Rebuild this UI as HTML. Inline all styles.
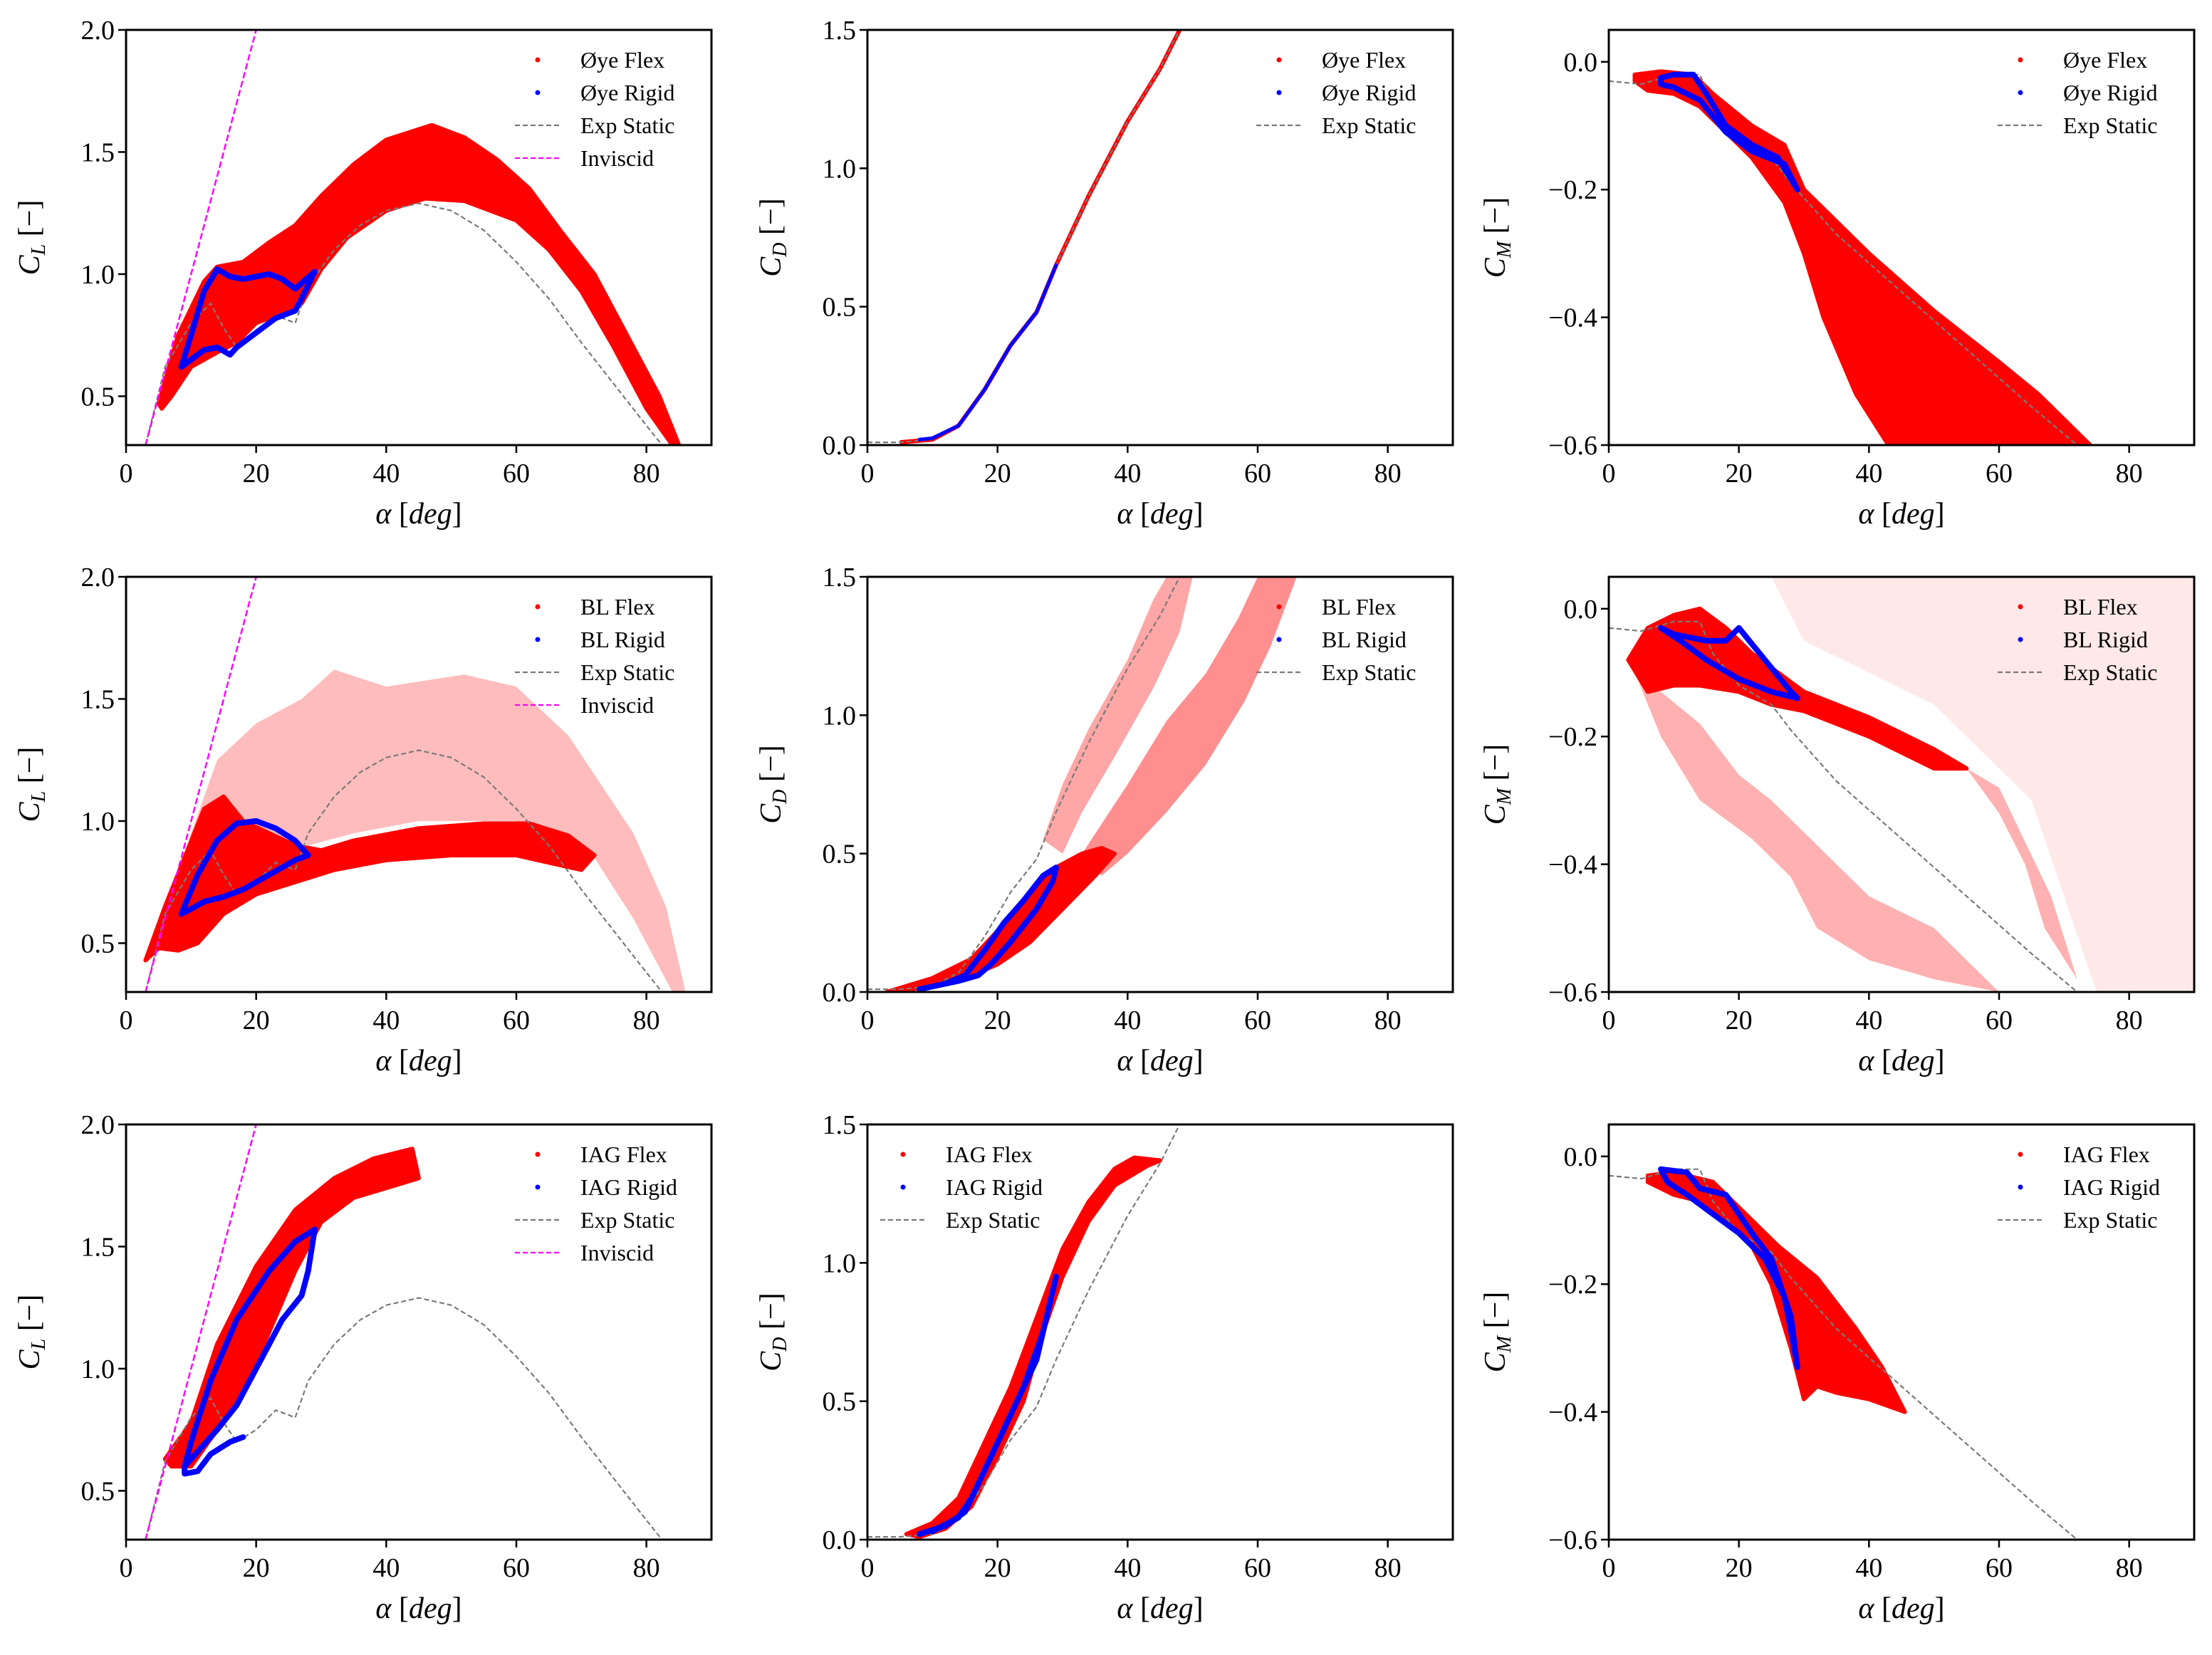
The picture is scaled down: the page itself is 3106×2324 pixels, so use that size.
<!DOCTYPE html>
<html><head><meta charset="utf-8"><style>
html,body{margin:0;padding:0;background:#fff;}
svg{display:block;}
text{font-family:"Liberation Serif","DejaVu Serif",serif;fill:#000;}
</style></head><body>
<svg id="fig" xmlns="http://www.w3.org/2000/svg" width="3106" height="2324" viewBox="0 0 3106 2324"></svg>
<script>
// ---------- shared data ----------
const xTicks = [0,20,40,60,80];
const clTicks = [0.5,1.0,1.5,2.0];
const cdTicks = [0.0,0.5,1.0,1.5];
const cmTicks = [0.0,-0.2,-0.4,-0.6];

const expCLa = [3,6,10,13,15,17,20,23,26,28,32,36,40,45,50,55,60,65,70,75,80,83];
const expCLv = [0.3,0.62,0.8,0.88,0.78,0.7,0.75,0.83,0.8,0.95,1.1,1.2,1.26,1.29,1.26,1.18,1.05,0.9,0.72,0.55,0.38,0.28];
const expCDa = [0,5,10,14,18,22,26,29,34,40,45,48];
const expCDv = [0.01,0.01,0.02,0.07,0.2,0.36,0.48,0.65,0.9,1.17,1.36,1.5];
const expCMa = [0,5,10,14,16,20,25,28,35,45,55,65,72];
const expCMv = [-0.03,-0.035,-0.02,-0.02,-0.07,-0.12,-0.15,-0.19,-0.27,-0.36,-0.45,-0.54,-0.6];
const invA = [3,20];
const invV = [0.3,2.0];

// Øye CL
const oyeCLdenseA = [5,8,12,14,18,22,26,30,35,40,47,52,57,62,67,72,77,82,85,84,80,75,70,65,60,52,46,40,34,30,27,24,20,17,14,10,7,5.5];
const oyeCLdenseV = [0.47,0.75,0.97,1.03,1.05,1.13,1.2,1.32,1.45,1.55,1.61,1.56,1.47,1.35,1.17,1.0,0.75,0.5,0.3,0.3,0.45,0.7,0.93,1.1,1.22,1.3,1.31,1.26,1.15,1.02,0.88,0.84,0.8,0.72,0.68,0.62,0.5,0.45];
const oyeCLblueA = [8.5,10,12,14,16,18,22,24,26,29,27,26,23,20,17,16,14,12,10,8.5];
const oyeCLblueV = [0.62,0.75,0.93,1.02,0.99,0.98,1.0,0.98,0.94,1.01,0.9,0.85,0.82,0.76,0.7,0.67,0.7,0.69,0.65,0.62];
// Øye CD
const oyeCDredA = [5,10,14,18,22,26,29,34,40,45,48];
const oyeCDredV = [0.01,0.02,0.07,0.2,0.36,0.48,0.65,0.9,1.17,1.36,1.5];
const oyeCDblueA = [8,10,14,18,22,26,29];
const oyeCDblueV = [0.02,0.025,0.07,0.2,0.36,0.48,0.65];
// Øye CM
const oyeCMdenseA = [4,8,13,16,22,27,30,40,50,60,66,74,60,50,43,38,33,30,27,22,18,14,10,6,4];
const oyeCMdenseV = [-0.02,-0.015,-0.02,-0.05,-0.1,-0.13,-0.2,-0.3,-0.39,-0.47,-0.52,-0.6,-0.6,-0.6,-0.6,-0.52,-0.4,-0.3,-0.22,-0.15,-0.11,-0.07,-0.05,-0.045,-0.03];
const oyeCMblueA = [8,10,13,15,18,22,26,29,27,22,18,14,10,8,8];
const oyeCMblueV = [-0.025,-0.02,-0.02,-0.05,-0.1,-0.13,-0.15,-0.2,-0.16,-0.14,-0.11,-0.06,-0.04,-0.035,-0.025];

// BL CL
const blCLdenseA = [3,6,9,12,15,18,22,26,30,35,45,55,62,68,72,70,60,50,40,32,26,20,15,11,8,5,3];
const blCLdenseV = [0.43,0.65,0.85,1.05,1.1,1.0,0.95,0.9,0.88,0.92,0.97,0.99,0.99,0.94,0.86,0.8,0.86,0.86,0.84,0.8,0.75,0.7,0.62,0.5,0.47,0.48,0.43];
const blCLsparseA = [5,10,14,20,27,32,40,52,60,68,73,78,83,86,84,78,72,60,45,35,28,22,16,10];
const blCLsparseV = [0.5,0.95,1.25,1.4,1.5,1.62,1.55,1.6,1.55,1.35,1.15,0.95,0.65,0.3,0.3,0.6,0.85,1.0,1.0,0.95,0.9,0.95,0.9,0.65];
const blCLblueA = [8.5,11,14,17,20,23,26,28,26,22,18,15,12,10,8.5];
const blCLblueV = [0.62,0.78,0.92,0.99,1.0,0.97,0.92,0.86,0.84,0.78,0.72,0.69,0.67,0.64,0.62];
// BL CD
const blCDdenseA = [3,10,16,20,24,29,33,36,38,35,30,25,20,15,10,3];
const blCDdenseV = [0,0.05,0.12,0.22,0.32,0.45,0.5,0.52,0.5,0.42,0.3,0.18,0.1,0.05,0.02,0];
const blCDsparse1A = [27,30,34,40,44,46,50,48,44,38,33,30];
const blCDsparse1V = [0.55,0.75,0.95,1.2,1.42,1.5,1.5,1.3,1.1,0.85,0.65,0.5];
const blCDsparse2A = [33,40,46,52,57,60,66,62,58,52,46,40,36];
const blCDsparse2V = [0.5,0.75,0.98,1.15,1.35,1.5,1.5,1.25,1.05,0.82,0.65,0.5,0.42];
const blCDblueA = [8,12,15,18,21,24,27,29,28.5,26,22,19,17,14,10,8];
const blCDblueV = [0.01,0.03,0.06,0.15,0.25,0.33,0.42,0.45,0.4,0.3,0.18,0.1,0.06,0.04,0.02,0.01];
// BL CM
const blCMdenseA = [3,6,10,14,18,22,30,40,50,55,50,40,30,25,20,14,10,6,3];
const blCMdenseV = [-0.08,-0.03,-0.01,0.0,-0.03,-0.07,-0.13,-0.17,-0.22,-0.25,-0.25,-0.2,-0.16,-0.15,-0.13,-0.12,-0.12,-0.13,-0.08];
const blCMsparse1A = [4,8,14,22,28,32,40,50,60,50,40,35,25,20,14,8];
const blCMsparse1V = [-0.1,-0.2,-0.3,-0.36,-0.42,-0.5,-0.55,-0.58,-0.6,-0.5,-0.45,-0.4,-0.3,-0.26,-0.18,-0.13];
const blCMsparse2A = [55,60,64,67,72,68,60];
const blCMsparse2V = [-0.25,-0.32,-0.4,-0.5,-0.58,-0.45,-0.28];
const blCMsparse3A = [25,90,90,75,65,50,30];
const blCMsparse3V = [0.05,0.05,-0.6,-0.6,-0.3,-0.15,-0.05];
const blCMblueA = [8,10,15,18,20,24,28,29,25,20,15,11,8];
const blCMblueV = [-0.03,-0.04,-0.05,-0.05,-0.03,-0.08,-0.13,-0.14,-0.13,-0.11,-0.08,-0.05,-0.03];

// IAG CL
const iagCLdenseA = [6,10,14,20,26,32,38,44,45,40,35,30,26,22,18,14,10,7];
const iagCLdenseV = [0.63,0.78,1.1,1.42,1.65,1.78,1.86,1.9,1.78,1.74,1.7,1.6,1.4,1.15,0.9,0.75,0.6,0.6];
const iagCLblueA = [18,16,13,11,9,9,10,13,17,22,26,29,28,27,24,20,17,14,11,9];
const iagCLblueV = [0.72,0.7,0.65,0.58,0.57,0.6,0.7,0.95,1.2,1.4,1.52,1.57,1.4,1.3,1.2,1.0,0.85,0.75,0.66,0.6];
// IAG CD
const iagCDdenseA = [6,10,14,18,22,26,30,34,38,41,45,43,38,34,30,27,24,20,16,12,8];
const iagCDdenseV = [0.02,0.06,0.15,0.35,0.55,0.8,1.05,1.22,1.34,1.38,1.37,1.35,1.28,1.15,0.95,0.75,0.5,0.3,0.12,0.04,0.01];
const iagCDblueA = [8,12,15,18,22,26,28,29,27,24,20,16,14,10];
const iagCDblueV = [0.02,0.05,0.1,0.25,0.45,0.65,0.85,0.95,0.75,0.55,0.35,0.15,0.08,0.03];
// IAG CM
const iagCMdenseA = [6,10,16,20,26,32,38,42,45.5,40,35,32,30,28,25,22,18,14,10,6];
const iagCMdenseV = [-0.03,-0.025,-0.04,-0.08,-0.14,-0.19,-0.27,-0.33,-0.4,-0.38,-0.37,-0.36,-0.38,-0.3,-0.2,-0.14,-0.1,-0.07,-0.06,-0.04];
const iagCMblueA = [8,12,14,18,22,25,28,29,28.5,27,24,20,16,12,9,8];
const iagCMblueV = [-0.02,-0.025,-0.05,-0.06,-0.12,-0.16,-0.25,-0.33,-0.3,-0.22,-0.16,-0.12,-0.09,-0.06,-0.04,-0.02];

// ---------- rendering ----------
const NS = "http://www.w3.org/2000/svg";
const svg = document.getElementById('fig');
const colX = [177,1218,2259];
const rowY = [42,810,1579];
const W = 822, H = 583;
const XMIN = 0, XMAX = 90;

function mk(tag, attrs, parent){
  const e = document.createElementNS(NS, tag);
  for (const k in attrs) e.setAttribute(k, attrs[k]);
  (parent||svg).appendChild(e);
  return e;
}

function panel(cfg){
  const g = mk('g', {});
  
  
  const x0 = colX[cfg.col], y0 = rowY[cfg.row];
  const sx = a => x0 + (a - XMIN) / (XMAX - XMIN) * W;
  const sy = v => y0 + H - (v - cfg.ymin) / (cfg.ymax - cfg.ymin) * H;
  const clipId = 'clip' + cfg.col + cfg.row;
  const defs = mk('defs', {}, g);
  const cp = mk('clipPath', {id: clipId}, defs);
  mk('rect', {x: x0, y: y0, width: W, height: H}, cp);
  const plot = mk('g', {'clip-path': 'url(#' + clipId + ')'}, g);
  
  
  const pts = (A, V) => A.map((a, i) => sx(a).toFixed(1) + ',' + sy(V[i]).toFixed(1)).join(' ');

  (cfg.sparse || []).forEach(s => {
    const p = mk('polygon', {points: pts(s[0], s[1]), fill: '#ff2020', 'fill-opacity': s[2] || 0.4, stroke: 'none'}, plot);
    
    
  });
  (cfg.dense || []).forEach(s => {
    const p = mk('polygon', {points: pts(s[0], s[1]), fill: '#ff0000', stroke: '#ff0000', 'stroke-width': 6, 'stroke-linejoin': 'round'}, plot);
    
    
  });
  if (cfg.redLine){
    const l = mk('polyline', {points: pts(cfg.redLine[0], cfg.redLine[1]), fill: 'none', stroke: '#ff0000', 'stroke-width': 6, 'stroke-linejoin': 'round'}, plot);
    
    
  }
  const ex = mk('polyline', {points: pts(cfg.exp[0], cfg.exp[1]), fill: 'none', stroke: '#7a7a7a', 'stroke-width': 2.2, 'stroke-dasharray': '7,4'}, plot);
  
  
  if (cfg.inv){
    const iv = mk('polyline', {points: pts(invA, invV), fill: 'none', stroke: '#ff00ff', 'stroke-width': 2.5, 'stroke-dasharray': '9,4'}, plot);
    
    
  }
  if (cfg.blue){
    const b = mk('polyline', {points: pts(cfg.blue[0], cfg.blue[1]), fill: 'none', stroke: '#0000ff', 'stroke-width': cfg.blueW || 8, 'stroke-linejoin': 'round', 'stroke-linecap': 'round'}, plot);
    
    
  }
  const fr = mk('rect', {x: x0, y: y0, width: W, height: H, fill: 'none', stroke: '#000', 'stroke-width': 3}, g);
  
  
  xTicks.forEach(t => {
    const X = sx(t);
    const tk = mk('line', {x1: X, y1: y0 + H, x2: X, y2: y0 + H + 11, stroke: '#000', 'stroke-width': 2.5}, g);
    
    
    const tl = mk('text', {x: X, y: y0 + H + 52, 'font-size': 38, 'text-anchor': 'middle'}, g);
    tl.textContent = String(t);
    
    
  });
  cfg.yticks.forEach(t => {
    const Y = sy(t);
    const tk = mk('line', {x1: x0 - 11, y1: Y, x2: x0, y2: Y, stroke: '#000', 'stroke-width': 2.5}, g);
    
    
    const tl = mk('text', {x: x0 - 16, y: Y + 13, 'font-size': 38, 'text-anchor': 'end'}, g);
    tl.textContent = (t < 0 ? '\u2212' + Math.abs(t).toFixed(1) : t.toFixed(1));
    
    
  });
  const xl = mk('text', {x: x0 + W / 2, y: y0 + H + 110, 'font-size': 42, 'text-anchor': 'middle'}, g);
  xl.innerHTML = '<tspan font-style="italic">\u03b1</tspan> [<tspan font-style="italic">deg</tspan>]';
  
  
  const yx = x0 - cfg.ylabOff, yy = y0 + H / 2;
  const yl = mk('text', {x: yx, y: yy, 'font-size': 42, 'text-anchor': 'middle', transform: 'rotate(-90 ' + yx + ' ' + yy + ')'}, g);
  yl.innerHTML = '<tspan font-style="italic">C</tspan><tspan font-style="italic" font-size="28" dy="8">' + cfg.sub + '</tspan><tspan dy="-8"> [\u2212]</tspan>';
  
  
  const lg = mk('g', {}, g);
  
  
  const lx = cfg.legLeft ? x0 + 18 : x0 + 546;
  cfg.legend.forEach((ent, i) => {
    const ly = y0 + 42 + i * 46;
    if (ent[1] === 'dot'){
      const d = mk('circle', {cx: lx + 32, cy: ly, r: 3.5, fill: ent[2]}, lg);
      
      
    } else {
      const d = mk('line', {x1: lx, y1: ly, x2: lx + 64, y2: ly, stroke: ent[2], 'stroke-width': 2.2, 'stroke-dasharray': '7,4'}, lg);
      
      
    }
    const t = mk('text', {x: lx + 92, y: ly + 11, 'font-size': 32}, lg);
    t.textContent = ent[0];
    
    
  });
}

const RED = '#ff0000', BLUE = '#0000ff', GREY = '#7a7a7a', MAG = '#ff00ff';
function legCL(m){ return [[m + ' Flex','dot',RED],[m + ' Rigid','dot',BLUE],['Exp Static','line',GREY],['Inviscid','line',MAG]]; }
function leg3(m){ return [[m + ' Flex','dot',RED],[m + ' Rigid','dot',BLUE],['Exp Static','line',GREY]]; }

panel({name:'oye-cl-panel', col:0,row:0,ymin:0.3,ymax:2.0,yticks:clTicks,sub:'L',ylabOff:122,
  exp:[expCLa,expCLv],inv:true,dense:[[oyeCLdenseA,oyeCLdenseV]],blue:[oyeCLblueA,oyeCLblueV],legend:[['\u00d8ye Flex','dot',RED],['\u00d8ye Rigid','dot',BLUE],['Exp Static','line',GREY],['Inviscid','line',MAG]]});
panel({name:'oye-cd-panel', col:1,row:0,ymin:0,ymax:1.5,yticks:cdTicks,sub:'D',ylabOff:122,
  exp:[expCDa,expCDv],redLine:[oyeCDredA,oyeCDredV],blue:[oyeCDblueA,oyeCDblueV],blueW:5,legend:leg3('\u00d8ye')});
panel({name:'oye-cm-panel', col:2,row:0,ymin:-0.6,ymax:0.05,yticks:cmTicks,sub:'M',ylabOff:146,
  exp:[expCMa,expCMv],dense:[[oyeCMdenseA,oyeCMdenseV]],blue:[oyeCMblueA,oyeCMblueV],legend:leg3('\u00d8ye')});
panel({name:'bl-cl-panel', col:0,row:1,ymin:0.3,ymax:2.0,yticks:clTicks,sub:'L',ylabOff:122,
  exp:[expCLa,expCLv],inv:true,sparse:[[blCLsparseA,blCLsparseV,0.3]],dense:[[blCLdenseA,blCLdenseV]],blue:[blCLblueA,blCLblueV],legend:legCL('BL')});
panel({name:'bl-cd-panel', col:1,row:1,ymin:0,ymax:1.5,yticks:cdTicks,sub:'D',ylabOff:122,
  exp:[expCDa,expCDv],sparse:[[blCDsparse1A,blCDsparse1V,0.4],[blCDsparse2A,blCDsparse2V,0.5]],dense:[[blCDdenseA,blCDdenseV]],blue:[blCDblueA,blCDblueV],legend:leg3('BL')});
panel({name:'bl-cm-panel', col:2,row:1,ymin:-0.6,ymax:0.05,yticks:cmTicks,sub:'M',ylabOff:146,
  exp:[expCMa,expCMv],sparse:[[blCMsparse3A,blCMsparse3V,0.1],[blCMsparse1A,blCMsparse1V,0.35],[blCMsparse2A,blCMsparse2V,0.35]],dense:[[blCMdenseA,blCMdenseV]],blue:[blCMblueA,blCMblueV],legend:leg3('BL')});
panel({name:'iag-cl-panel', col:0,row:2,ymin:0.3,ymax:2.0,yticks:clTicks,sub:'L',ylabOff:122,
  exp:[expCLa,expCLv],inv:true,dense:[[iagCLdenseA,iagCLdenseV]],blue:[iagCLblueA,iagCLblueV],legend:legCL('IAG')});
panel({name:'iag-cd-panel', col:1,row:2,ymin:0,ymax:1.5,yticks:cdTicks,sub:'D',ylabOff:122,legLeft:true,
  exp:[expCDa,expCDv],dense:[[iagCDdenseA,iagCDdenseV]],blue:[iagCDblueA,iagCDblueV],legend:leg3('IAG')});
panel({name:'iag-cm-panel', col:2,row:2,ymin:-0.6,ymax:0.05,yticks:cmTicks,sub:'M',ylabOff:146,
  exp:[expCMa,expCMv],dense:[[iagCMdenseA,iagCMdenseV]],blue:[iagCMblueA,iagCMblueV],legend:leg3('IAG')});
</script>
</body></html>
